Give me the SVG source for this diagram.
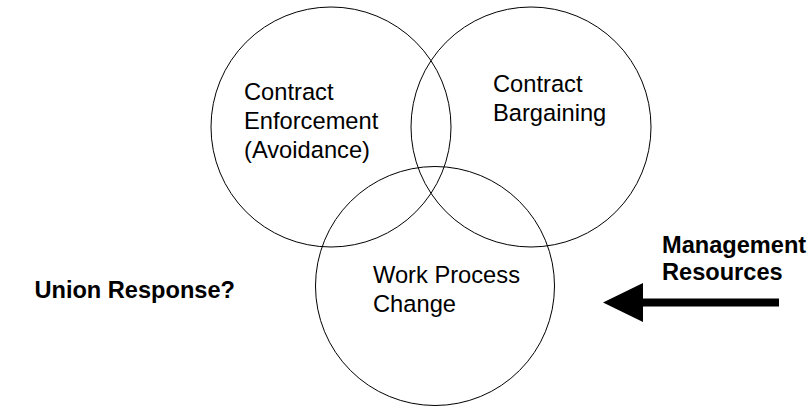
<svg xmlns="http://www.w3.org/2000/svg" width="810" height="406" viewBox="0 0 810 406">
<style>
.c{fill:none;stroke:#000;stroke-width:1}
.t{font-family:"Liberation Sans",Arial,sans-serif;font-size:23.7px;fill:#000}
.b{font-family:"Liberation Sans",Arial,sans-serif;font-size:23.6px;font-weight:bold;fill:#000}
</style>
<rect width="810" height="406" fill="#fff"/>
<g id="enforcement">
<circle class="c" cx="331" cy="127" r="120"/>
<text class="t" x="244" y="100">Contract</text>
<text class="t" x="244" y="129">Enforcement</text>
<text class="t" x="244" y="158">(Avoidance)</text>
</g>
<g id="bargaining">
<circle class="c" cx="531" cy="127" r="120"/>
<text class="t" x="493" y="92">Contract</text>
<text class="t" x="493" y="121">Bargaining</text>
</g>
<g id="workprocess">
<circle class="c" cx="435" cy="286" r="119.5"/>
<text class="t" x="373" y="283">Work Process</text>
<text class="t" x="373" y="312">Change</text>
</g>
<g id="union">
<text class="b" x="235" y="298" text-anchor="end">Union Response?</text>
</g>
<g id="management">
<text class="b" x="662" y="253">Management</text>
<text class="b" x="662" y="280">Resources</text>
</g>
<g id="connectors">
<polygon points="603,302.5 643,283 643,298.5 779,298.5 779,306.5 643,306.5 643,322" fill="#000"/>
</g>
</svg>
